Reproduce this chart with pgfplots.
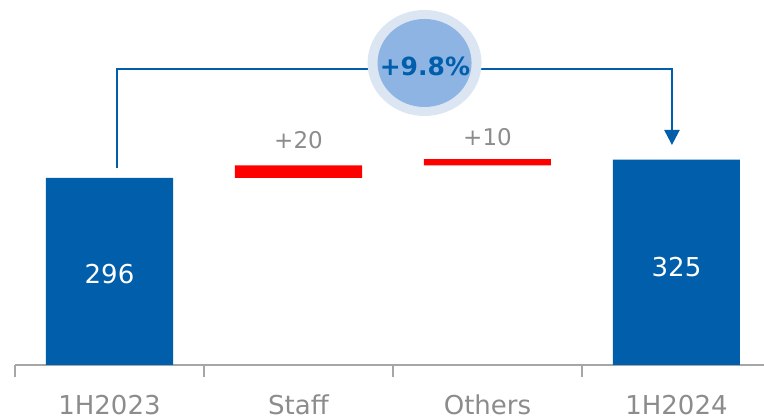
\documentclass[border=0pt]{standalone}
\usepackage{pgfplots}
\pgfplotsset{compat=1.18}
\usepackage{fontspec}
\setmainfont{DejaVu Sans}
\usetikzlibrary{arrows.meta}
\definecolor{barblue}{HTML}{005EAA}
\definecolor{barred}{HTML}{FF0000}
\definecolor{txtgray}{HTML}{8C8C8C}
\definecolor{axgray}{HTML}{A6A6A6}
\definecolor{ringc}{HTML}{DCE6F2}
\definecolor{innerc}{HTML}{8EB4E3}
\begin{document}
\begin{tikzpicture}[x=1pt,y=1pt]
\useasboundingbox (0,0) rectangle (764,420);
\begin{axis}[
  at={(15pt,55pt)}, anchor=south west,
  scale only axis, width=749pt, height=365pt,
  xmin=-0.5, xmax=3.463, ymin=0, ymax=577.7,
  clip=false,
  axis x line*=bottom, axis y line=none,
  x axis line style={-, draw=axgray, line width=1.5pt},
  ybar stacked, bar width=127pt,
  xtick={0,1,2,3},
  xticklabels={1H2023,Staff,Others,1H2024},
  major tick length=0pt,
  minor xtick={-0.5,0.5,1.5,2.5},
  minor tick length=12pt,
  xtick align=outside,
  every tick/.style={draw=axgray, line width=1.5pt},
  xticklabel style={anchor=north, inner sep=0pt, yshift=-30pt,
    font=\fontsize{26}{28}\selectfont, text=txtgray},
]
\addplot[fill=barblue, draw=none] coordinates {(0,296) (1,0) (2,0) (3,325)};
\addplot[fill=none, draw=none] coordinates {(0,0) (1,296) (2,316) (3,0)};
\addplot[fill=barred, draw=none] coordinates {(0,0) (1,20) (2,10) (3,0)};

\coordinate (L1) at (axis cs:0.0397,311.8);
\coordinate (L2) at (axis cs:0.0397,468.5);
\coordinate (L3) at (axis cs:2.976,468.5);
\coordinate (L4) at (axis cs:2.976,348.2);
\coordinate (E) at (axis cs:1.667,478);
\coordinate (P) at (axis cs:1.669,473);
\coordinate (A) at (axis cs:0,144);
\coordinate (B) at (axis cs:3,155);
\coordinate (S) at (axis cs:1,356);
\coordinate (O) at (axis cs:2,361);
\end{axis}
\draw[barblue, line width=2.2pt, -{Triangle[length=15pt,width=15pt]}]
  (L1) -- (L2) -- (L3) -- (L4);
\fill[ringc] (E) ellipse [x radius=57pt, y radius=53pt];
\fill[innerc] (E) ellipse [x radius=47pt, y radius=44pt];
\node[text=barblue, font=\fontsize{25}{27}\selectfont\bfseries] at (P) {+9.8\%};
\node[text=white, font=\fontsize{26}{28}\selectfont] at (A) {296};
\node[text=white, font=\fontsize{26}{28}\selectfont] at (B) {325};
\node[text=txtgray, font=\fontsize{23}{25}\selectfont] at (S) {+20};
\node[text=txtgray, font=\fontsize{23}{25}\selectfont] at (O) {+10};
\end{tikzpicture}
\end{document}
